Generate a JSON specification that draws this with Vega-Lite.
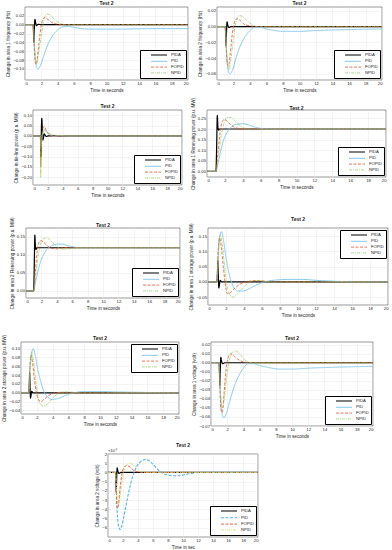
{
"$schema": "https://vega.github.io/schema/vega-lite/v6.json",
"padding": {"left": 0, "top": 0, "right": 0, "bottom": 0},
"background": "white",
"config": {
 "font": "Liberation Sans",
 "view": {"stroke": "#333333", "strokeWidth": 0.5},
 "axis": {"labelFontSize": 4.2, "titleFontSize": 4.6, "titleFontWeight": "normal", "labelColor": "#222222", "titleColor": "#222222", "grid": true, "gridColor": "#e3e3e3", "gridWidth": 0.4, "domain": false, "ticks": false, "labelPadding": 1.5, "titlePadding": 2},
 "title": {"fontSize": 5, "fontWeight": "bold", "offset": 1, "color": "#222222"},
 "legend": {"title": null, "labelFontSize": 4.2, "symbolType": "M-4,0H4", "symbolSize": 16, "strokeColor": "#000000", "fillColor": "#ffffff", "padding": 2, "rowPadding": 0.8, "labelOffset": 9, "symbolOffset": 14, "offset": 2, "cornerRadius": 0, "labelColor": "#222222"},
 "line": {"clip": true, "interpolate": "monotone"}
},
"datasets": {
 "A": [
  {"s":"PIDA","t":0,"v":0},{"s":"PIDA","t":1,"v":0},{"s":"PIDA","t":1.05,"v":-0.02},{"s":"PIDA","t":1.1,"v":-0.04},{"s":"PIDA","t":1.15,"v":-0.01},{"s":"PIDA","t":1.22,"v":0.012},{"s":"PIDA","t":1.3,"v":0.005},{"s":"PIDA","t":1.4,"v":-0.002},{"s":"PIDA","t":1.6,"v":0.001},{"s":"PIDA","t":2,"v":0},{"s":"PIDA","t":20,"v":0},
  {"s":"PID","t":0,"v":0},{"s":"PID","t":1,"v":0},{"s":"PID","t":1.2,"v":-0.06},{"s":"PID","t":1.4,"v":-0.095},{"s":"PID","t":1.6,"v":-0.1},{"s":"PID","t":1.9,"v":-0.092},{"s":"PID","t":2.3,"v":-0.07},{"s":"PID","t":2.8,"v":-0.045},{"s":"PID","t":3.3,"v":-0.027},{"s":"PID","t":4,"v":-0.012},{"s":"PID","t":4.6,"v":-0.005},{"s":"PID","t":5.2,"v":-0.004},{"s":"PID","t":6,"v":-0.006},{"s":"PID","t":7,"v":-0.009},{"s":"PID","t":8,"v":-0.01},{"s":"PID","t":10,"v":-0.01},{"s":"PID","t":12,"v":-0.01},{"s":"PID","t":15,"v":-0.009},{"s":"PID","t":20,"v":-0.009},
  {"s":"FOPID","t":0,"v":0},{"s":"FOPID","t":1,"v":0},{"s":"FOPID","t":1.1,"v":-0.04},{"s":"FOPID","t":1.25,"v":-0.085},{"s":"FOPID","t":1.4,"v":-0.09},{"s":"FOPID","t":1.6,"v":-0.06},{"s":"FOPID","t":1.85,"v":-0.02},{"s":"FOPID","t":2.1,"v":0.008},{"s":"FOPID","t":2.4,"v":0.016},{"s":"FOPID","t":2.8,"v":0.012},{"s":"FOPID","t":3.3,"v":0.005},{"s":"FOPID","t":4,"v":0.001},{"s":"FOPID","t":5,"v":0},{"s":"FOPID","t":20,"v":0},
  {"s":"NPID","t":0,"v":0},{"s":"NPID","t":1,"v":0},{"s":"NPID","t":1.1,"v":-0.03},{"s":"NPID","t":1.3,"v":-0.08},{"s":"NPID","t":1.45,"v":-0.085},{"s":"NPID","t":1.7,"v":-0.06},{"s":"NPID","t":2,"v":-0.025},{"s":"NPID","t":2.3,"v":0.01},{"s":"NPID","t":2.7,"v":0.024},{"s":"NPID","t":3.1,"v":0.022},{"s":"NPID","t":3.6,"v":0.012},{"s":"NPID","t":4.2,"v":0.004},{"s":"NPID","t":5,"v":0},{"s":"NPID","t":20,"v":0}
 ],
 "B": [
  {"s":"PIDA","t":0,"v":0},{"s":"PIDA","t":1,"v":0},{"s":"PIDA","t":1.05,"v":-0.01},{"s":"PIDA","t":1.1,"v":-0.024},{"s":"PIDA","t":1.16,"v":-0.005},{"s":"PIDA","t":1.22,"v":0.006},{"s":"PIDA","t":1.3,"v":0.002},{"s":"PIDA","t":1.45,"v":-0.001},{"s":"PIDA","t":1.7,"v":0},{"s":"PIDA","t":20,"v":0},
  {"s":"PID","t":0,"v":0},{"s":"PID","t":1,"v":0},{"s":"PID","t":1.2,"v":-0.04},{"s":"PID","t":1.4,"v":-0.058},{"s":"PID","t":1.6,"v":-0.06},{"s":"PID","t":1.9,"v":-0.055},{"s":"PID","t":2.3,"v":-0.04},{"s":"PID","t":2.8,"v":-0.025},{"s":"PID","t":3.4,"v":-0.013},{"s":"PID","t":4,"v":-0.005},{"s":"PID","t":4.6,"v":-0.001},{"s":"PID","t":5.2,"v":-0.001},{"s":"PID","t":6,"v":-0.003},{"s":"PID","t":7,"v":-0.005},{"s":"PID","t":8,"v":-0.006},{"s":"PID","t":10,"v":-0.006},{"s":"PID","t":12,"v":-0.005},{"s":"PID","t":15,"v":-0.004},{"s":"PID","t":20,"v":-0.003},
  {"s":"FOPID","t":0,"v":0},{"s":"FOPID","t":1,"v":0},{"s":"FOPID","t":1.1,"v":-0.025},{"s":"FOPID","t":1.25,"v":-0.048},{"s":"FOPID","t":1.4,"v":-0.05},{"s":"FOPID","t":1.6,"v":-0.035},{"s":"FOPID","t":1.85,"v":-0.01},{"s":"FOPID","t":2.1,"v":0.005},{"s":"FOPID","t":2.4,"v":0.01},{"s":"FOPID","t":2.8,"v":0.008},{"s":"FOPID","t":3.3,"v":0.003},{"s":"FOPID","t":4,"v":0.001},{"s":"FOPID","t":5,"v":0},{"s":"FOPID","t":20,"v":0},
  {"s":"NPID","t":0,"v":0},{"s":"NPID","t":1,"v":0},{"s":"NPID","t":1.1,"v":-0.02},{"s":"NPID","t":1.3,"v":-0.05},{"s":"NPID","t":1.45,"v":-0.055},{"s":"NPID","t":1.7,"v":-0.04},{"s":"NPID","t":2,"v":-0.015},{"s":"NPID","t":2.3,"v":0.006},{"s":"NPID","t":2.7,"v":0.014},{"s":"NPID","t":3.1,"v":0.013},{"s":"NPID","t":3.6,"v":0.008},{"s":"NPID","t":4.2,"v":0.003},{"s":"NPID","t":5,"v":0},{"s":"NPID","t":20,"v":0}
 ],
 "C": [
  {"s":"PIDA","t":0,"v":0},{"s":"PIDA","t":1,"v":0},{"s":"PIDA","t":1.03,"v":-0.05},{"s":"PIDA","t":1.07,"v":-0.1},{"s":"PIDA","t":1.12,"v":0.02},{"s":"PIDA","t":1.18,"v":0.085},{"s":"PIDA","t":1.25,"v":0.03},{"s":"PIDA","t":1.32,"v":-0.02},{"s":"PIDA","t":1.4,"v":-0.01},{"s":"PIDA","t":1.5,"v":0.01},{"s":"PIDA","t":1.6,"v":0.005},{"s":"PIDA","t":1.8,"v":-0.003},{"s":"PIDA","t":2,"v":0},{"s":"PIDA","t":20,"v":0},
  {"s":"PID","t":0,"v":0},{"s":"PID","t":1,"v":0},{"s":"PID","t":1.05,"v":-0.05},{"s":"PID","t":1.15,"v":-0.03},{"s":"PID","t":1.35,"v":0.02},{"s":"PID","t":1.6,"v":0.03},{"s":"PID","t":1.9,"v":0.02},{"s":"PID","t":2.3,"v":0.005},{"s":"PID","t":2.8,"v":-0.003},{"s":"PID","t":3.5,"v":0.002},{"s":"PID","t":4.5,"v":0},{"s":"PID","t":20,"v":0},
  {"s":"FOPID","t":0,"v":0},{"s":"FOPID","t":1,"v":0},{"s":"FOPID","t":1.04,"v":-0.15},{"s":"FOPID","t":1.1,"v":-0.08},{"s":"FOPID","t":1.25,"v":0.02},{"s":"FOPID","t":1.5,"v":0.045},{"s":"FOPID","t":1.8,"v":0.025},{"s":"FOPID","t":2.2,"v":0.005},{"s":"FOPID","t":2.7,"v":-0.003},{"s":"FOPID","t":3.3,"v":0.001},{"s":"FOPID","t":4,"v":0},{"s":"FOPID","t":20,"v":0},
  {"s":"NPID","t":0,"v":0},{"s":"NPID","t":1,"v":0},{"s":"NPID","t":1.03,"v":-0.2},{"s":"NPID","t":1.08,"v":-0.12},{"s":"NPID","t":1.2,"v":0},{"s":"NPID","t":1.4,"v":0.025},{"s":"NPID","t":1.7,"v":0.02},{"s":"NPID","t":2.1,"v":0.012},{"s":"NPID","t":2.6,"v":0.006},{"s":"NPID","t":3.2,"v":0.002},{"s":"NPID","t":4,"v":0.002},{"s":"NPID","t":5,"v":0},{"s":"NPID","t":20,"v":0}
 ],
 "D": [
  {"s":"PIDA","t":0,"v":0},{"s":"PIDA","t":1,"v":0},{"s":"PIDA","t":1.08,"v":0.12},{"s":"PIDA","t":1.15,"v":0.265},{"s":"PIDA","t":1.22,"v":0.21},{"s":"PIDA","t":1.3,"v":0.195},{"s":"PIDA","t":1.4,"v":0.2},{"s":"PIDA","t":20,"v":0.2},
  {"s":"PID","t":0,"v":0},{"s":"PID","t":1,"v":0},{"s":"PID","t":1.2,"v":0.03},{"s":"PID","t":1.5,"v":0.09},{"s":"PID","t":1.8,"v":0.14},{"s":"PID","t":2.2,"v":0.18},{"s":"PID","t":2.7,"v":0.21},{"s":"PID","t":3.3,"v":0.222},{"s":"PID","t":4,"v":0.225},{"s":"PID","t":4.6,"v":0.22},{"s":"PID","t":5.3,"v":0.21},{"s":"PID","t":6,"v":0.203},{"s":"PID","t":7,"v":0.2},{"s":"PID","t":20,"v":0.2},
  {"s":"FOPID","t":0,"v":0},{"s":"FOPID","t":1,"v":0},{"s":"FOPID","t":1.2,"v":0.08},{"s":"FOPID","t":1.45,"v":0.18},{"s":"FOPID","t":1.7,"v":0.235},{"s":"FOPID","t":1.95,"v":0.245},{"s":"FOPID","t":2.3,"v":0.235},{"s":"FOPID","t":2.8,"v":0.215},{"s":"FOPID","t":3.3,"v":0.205},{"s":"FOPID","t":4,"v":0.2},{"s":"FOPID","t":20,"v":0.2},
  {"s":"NPID","t":0,"v":0},{"s":"NPID","t":1,"v":0},{"s":"NPID","t":1.3,"v":0.08},{"s":"NPID","t":1.6,"v":0.17},{"s":"NPID","t":1.9,"v":0.23},{"s":"NPID","t":2.3,"v":0.255},{"s":"NPID","t":2.7,"v":0.255},{"s":"NPID","t":3.2,"v":0.235},{"s":"NPID","t":3.8,"v":0.213},{"s":"NPID","t":4.4,"v":0.2},{"s":"NPID","t":5,"v":0.196},{"s":"NPID","t":5.8,"v":0.197},{"s":"NPID","t":7,"v":0.2},{"s":"NPID","t":20,"v":0.2}
 ],
 "E": [
  {"s":"PIDA","t":0,"v":0},{"s":"PIDA","t":1,"v":0},{"s":"PIDA","t":1.08,"v":0.08},{"s":"PIDA","t":1.15,"v":0.155},{"s":"PIDA","t":1.22,"v":0.125},{"s":"PIDA","t":1.3,"v":0.115},{"s":"PIDA","t":1.4,"v":0.12},{"s":"PIDA","t":20,"v":0.12},
  {"s":"PID","t":0,"v":0},{"s":"PID","t":1,"v":0},{"s":"PID","t":1.2,"v":0.02},{"s":"PID","t":1.5,"v":0.05},{"s":"PID","t":1.8,"v":0.075},{"s":"PID","t":2.2,"v":0.097},{"s":"PID","t":2.7,"v":0.115},{"s":"PID","t":3.3,"v":0.125},{"s":"PID","t":4,"v":0.13},{"s":"PID","t":4.7,"v":0.13},{"s":"PID","t":5.4,"v":0.126},{"s":"PID","t":6.2,"v":0.122},{"s":"PID","t":7,"v":0.12},{"s":"PID","t":20,"v":0.12},
  {"s":"FOPID","t":0,"v":0},{"s":"FOPID","t":1,"v":0},{"s":"FOPID","t":1.2,"v":0.05},{"s":"FOPID","t":1.45,"v":0.11},{"s":"FOPID","t":1.7,"v":0.135},{"s":"FOPID","t":1.95,"v":0.14},{"s":"FOPID","t":2.3,"v":0.135},{"s":"FOPID","t":2.8,"v":0.125},{"s":"FOPID","t":3.4,"v":0.118},{"s":"FOPID","t":4,"v":0.117},{"s":"FOPID","t":5,"v":0.12},{"s":"FOPID","t":20,"v":0.12},
  {"s":"NPID","t":0,"v":0},{"s":"NPID","t":1,"v":0},{"s":"NPID","t":1.3,"v":0.05},{"s":"NPID","t":1.6,"v":0.1},{"s":"NPID","t":1.9,"v":0.13},{"s":"NPID","t":2.3,"v":0.145},{"s":"NPID","t":2.7,"v":0.148},{"s":"NPID","t":3.2,"v":0.14},{"s":"NPID","t":3.8,"v":0.127},{"s":"NPID","t":4.4,"v":0.118},{"s":"NPID","t":5,"v":0.116},{"s":"NPID","t":6,"v":0.118},{"s":"NPID","t":7,"v":0.12},{"s":"NPID","t":20,"v":0.12}
 ],
 "F": [
  {"s":"PIDA","t":0,"v":0},{"s":"PIDA","t":1,"v":0},{"s":"PIDA","t":1.06,"v":0.04},{"s":"PIDA","t":1.1,"v":0.07},{"s":"PIDA","t":1.15,"v":0.02},{"s":"PIDA","t":1.2,"v":-0.02},{"s":"PIDA","t":1.27,"v":-0.01},{"s":"PIDA","t":1.35,"v":0.005},{"s":"PIDA","t":1.5,"v":0},{"s":"PIDA","t":20,"v":0},
  {"s":"PID","t":0,"v":0},{"s":"PID","t":1,"v":0},{"s":"PID","t":1.15,"v":0.09},{"s":"PID","t":1.3,"v":0.15},{"s":"PID","t":1.5,"v":0.165},{"s":"PID","t":1.7,"v":0.14},{"s":"PID","t":2,"v":0.08},{"s":"PID","t":2.4,"v":0.02},{"s":"PID","t":2.8,"v":-0.015},{"s":"PID","t":3.3,"v":-0.03},{"s":"PID","t":3.9,"v":-0.03},{"s":"PID","t":4.6,"v":-0.022},{"s":"PID","t":5.4,"v":-0.01},{"s":"PID","t":6.3,"v":0},{"s":"PID","t":7.5,"v":0.006},{"s":"PID","t":9,"v":0.008},{"s":"PID","t":10.5,"v":0.008},{"s":"PID","t":12,"v":0.005},{"s":"PID","t":14,"v":0.002},{"s":"PID","t":17,"v":0},{"s":"PID","t":20,"v":0},
  {"s":"FOPID","t":0,"v":0},{"s":"FOPID","t":1,"v":0},{"s":"FOPID","t":1.12,"v":0.1},{"s":"FOPID","t":1.3,"v":0.145},{"s":"FOPID","t":1.45,"v":0.12},{"s":"FOPID","t":1.7,"v":0.05},{"s":"FOPID","t":1.95,"v":-0.015},{"s":"FOPID","t":2.2,"v":-0.04},{"s":"FOPID","t":2.5,"v":-0.035},{"s":"FOPID","t":3,"v":-0.02},{"s":"FOPID","t":3.6,"v":-0.007},{"s":"FOPID","t":4.3,"v":0},{"s":"FOPID","t":5,"v":0.004},{"s":"FOPID","t":6,"v":0.003},{"s":"FOPID","t":7,"v":0},{"s":"FOPID","t":20,"v":0},
  {"s":"NPID","t":0,"v":0},{"s":"NPID","t":1,"v":0},{"s":"NPID","t":1.15,"v":0.1},{"s":"NPID","t":1.35,"v":0.155},{"s":"NPID","t":1.55,"v":0.13},{"s":"NPID","t":1.85,"v":0.05},{"s":"NPID","t":2.15,"v":-0.02},{"s":"NPID","t":2.5,"v":-0.045},{"s":"NPID","t":2.8,"v":-0.05},{"s":"NPID","t":3.2,"v":-0.042},{"s":"NPID","t":3.7,"v":-0.025},{"s":"NPID","t":4.3,"v":-0.008},{"s":"NPID","t":5,"v":0.003},{"s":"NPID","t":5.8,"v":0.004},{"s":"NPID","t":7,"v":0},{"s":"NPID","t":20,"v":0}
 ],
 "G": [
  {"s":"PIDA","t":0,"v":0},{"s":"PIDA","t":1,"v":0},{"s":"PIDA","t":1.06,"v":0.025},{"s":"PIDA","t":1.1,"v":0.045},{"s":"PIDA","t":1.15,"v":0.01},{"s":"PIDA","t":1.2,"v":-0.012},{"s":"PIDA","t":1.27,"v":-0.006},{"s":"PIDA","t":1.35,"v":0.003},{"s":"PIDA","t":1.5,"v":0},{"s":"PIDA","t":20,"v":0},
  {"s":"PID","t":0,"v":0},{"s":"PID","t":1,"v":0},{"s":"PID","t":1.15,"v":0.05},{"s":"PID","t":1.35,"v":0.09},{"s":"PID","t":1.55,"v":0.1},{"s":"PID","t":1.8,"v":0.085},{"s":"PID","t":2.1,"v":0.055},{"s":"PID","t":2.5,"v":0.025},{"s":"PID","t":2.9,"v":0.003},{"s":"PID","t":3.4,"v":-0.01},{"s":"PID","t":4,"v":-0.015},{"s":"PID","t":4.7,"v":-0.013},{"s":"PID","t":5.5,"v":-0.007},{"s":"PID","t":6.5,"v":-0.001},{"s":"PID","t":8,"v":0.003},{"s":"PID","t":10,"v":0.003},{"s":"PID","t":12,"v":0.002},{"s":"PID","t":15,"v":0.001},{"s":"PID","t":20,"v":0},
  {"s":"FOPID","t":0,"v":0},{"s":"FOPID","t":1,"v":0},{"s":"FOPID","t":1.12,"v":0.06},{"s":"FOPID","t":1.3,"v":0.085},{"s":"FOPID","t":1.45,"v":0.07},{"s":"FOPID","t":1.7,"v":0.03},{"s":"FOPID","t":1.95,"v":0},{"s":"FOPID","t":2.2,"v":-0.015},{"s":"FOPID","t":2.5,"v":-0.02},{"s":"FOPID","t":2.9,"v":-0.015},{"s":"FOPID","t":3.5,"v":-0.006},{"s":"FOPID","t":4.2,"v":-0.001},{"s":"FOPID","t":5,"v":0.001},{"s":"FOPID","t":6,"v":0},{"s":"FOPID","t":20,"v":0},
  {"s":"NPID","t":0,"v":0},{"s":"NPID","t":1,"v":0},{"s":"NPID","t":1.15,"v":0.07},{"s":"NPID","t":1.35,"v":0.092},{"s":"NPID","t":1.55,"v":0.075},{"s":"NPID","t":1.85,"v":0.03},{"s":"NPID","t":2.15,"v":-0.01},{"s":"NPID","t":2.5,"v":-0.027},{"s":"NPID","t":2.9,"v":-0.03},{"s":"NPID","t":3.4,"v":-0.025},{"s":"NPID","t":4,"v":-0.012},{"s":"NPID","t":4.6,"v":-0.003},{"s":"NPID","t":5.3,"v":0.002},{"s":"NPID","t":6.2,"v":0.002},{"s":"NPID","t":7,"v":0},{"s":"NPID","t":20,"v":0}
 ],
 "H": [
  {"s":"PIDA","t":0,"v":0},{"s":"PIDA","t":1,"v":0},{"s":"PIDA","t":1.05,"v":-0.012},{"s":"PIDA","t":1.1,"v":-0.025},{"s":"PIDA","t":1.16,"v":-0.005},{"s":"PIDA","t":1.22,"v":0.006},{"s":"PIDA","t":1.3,"v":0.002},{"s":"PIDA","t":1.45,"v":-0.001},{"s":"PIDA","t":1.7,"v":0},{"s":"PIDA","t":20,"v":0},
  {"s":"PID","t":0,"v":0},{"s":"PID","t":1,"v":0},{"s":"PID","t":1.2,"v":-0.04},{"s":"PID","t":1.4,"v":-0.058},{"s":"PID","t":1.6,"v":-0.061},{"s":"PID","t":1.9,"v":-0.056},{"s":"PID","t":2.3,"v":-0.043},{"s":"PID","t":2.8,"v":-0.028},{"s":"PID","t":3.4,"v":-0.015},{"s":"PID","t":4,"v":-0.006},{"s":"PID","t":4.6,"v":-0.001},{"s":"PID","t":5.2,"v":-0.001},{"s":"PID","t":6,"v":-0.003},{"s":"PID","t":7,"v":-0.005},{"s":"PID","t":8.5,"v":-0.007},{"s":"PID","t":10,"v":-0.007},{"s":"PID","t":12,"v":-0.006},{"s":"PID","t":15,"v":-0.005},{"s":"PID","t":20,"v":-0.004},
  {"s":"FOPID","t":0,"v":0},{"s":"FOPID","t":1,"v":0},{"s":"FOPID","t":1.1,"v":-0.03},{"s":"FOPID","t":1.25,"v":-0.053},{"s":"FOPID","t":1.4,"v":-0.055},{"s":"FOPID","t":1.6,"v":-0.035},{"s":"FOPID","t":1.85,"v":-0.008},{"s":"FOPID","t":2.1,"v":0.005},{"s":"FOPID","t":2.4,"v":0.01},{"s":"FOPID","t":2.8,"v":0.008},{"s":"FOPID","t":3.3,"v":0.004},{"s":"FOPID","t":4,"v":0.001},{"s":"FOPID","t":5,"v":0},{"s":"FOPID","t":20,"v":0},
  {"s":"NPID","t":0,"v":0},{"s":"NPID","t":1,"v":0},{"s":"NPID","t":1.1,"v":-0.02},{"s":"NPID","t":1.3,"v":-0.047},{"s":"NPID","t":1.45,"v":-0.05},{"s":"NPID","t":1.7,"v":-0.035},{"s":"NPID","t":2,"v":-0.012},{"s":"NPID","t":2.3,"v":0.004},{"s":"NPID","t":2.7,"v":0.012},{"s":"NPID","t":3.1,"v":0.013},{"s":"NPID","t":3.6,"v":0.009},{"s":"NPID","t":4.2,"v":0.003},{"s":"NPID","t":5,"v":0},{"s":"NPID","t":20,"v":0}
 ],
 "I": [
  {"s":"PIDA","t":0,"v":0},{"s":"PIDA","t":1,"v":0},{"s":"PIDA","t":1.05,"v":-1},{"s":"PIDA","t":1.1,"v":-2.1},{"s":"PIDA","t":1.16,"v":-0.5},{"s":"PIDA","t":1.22,"v":0.5},{"s":"PIDA","t":1.3,"v":0.2},{"s":"PIDA","t":1.45,"v":-0.1},{"s":"PIDA","t":1.7,"v":0},{"s":"PIDA","t":20,"v":0},
  {"s":"PID","t":0,"v":0},{"s":"PID","t":1,"v":0},{"s":"PID","t":1.2,"v":-4},{"s":"PID","t":1.4,"v":-5.8},{"s":"PID","t":1.6,"v":-6.2},{"s":"PID","t":1.9,"v":-5.6},{"s":"PID","t":2.3,"v":-4},{"s":"PID","t":2.8,"v":-2},{"s":"PID","t":3.3,"v":-0.4},{"s":"PID","t":3.8,"v":0.6},{"s":"PID","t":4.4,"v":1.2},{"s":"PID","t":5,"v":1.4},{"s":"PID","t":5.6,"v":1.2},{"s":"PID","t":6.2,"v":0.7},{"s":"PID","t":6.8,"v":0.2},{"s":"PID","t":7.5,"v":-0.15},{"s":"PID","t":8.5,"v":-0.35},{"s":"PID","t":9.5,"v":-0.35},{"s":"PID","t":10.5,"v":-0.2},{"s":"PID","t":11.5,"v":-0.05},{"s":"PID","t":13,"v":0.02},{"s":"PID","t":20,"v":0},
  {"s":"FOPID","t":0,"v":0},{"s":"FOPID","t":1,"v":0},{"s":"FOPID","t":1.1,"v":-2},{"s":"FOPID","t":1.25,"v":-3.9},{"s":"FOPID","t":1.4,"v":-3.5},{"s":"FOPID","t":1.6,"v":-1.8},{"s":"FOPID","t":1.85,"v":-0.2},{"s":"FOPID","t":2.1,"v":0.5},{"s":"FOPID","t":2.5,"v":0.75},{"s":"FOPID","t":2.9,"v":0.6},{"s":"FOPID","t":3.4,"v":0.25},{"s":"FOPID","t":4,"v":0.05},{"s":"FOPID","t":5,"v":0},{"s":"FOPID","t":20,"v":0},
  {"s":"NPID","t":0,"v":0},{"s":"NPID","t":1,"v":0},{"s":"NPID","t":1.1,"v":-1.5},{"s":"NPID","t":1.3,"v":-3.2},{"s":"NPID","t":1.45,"v":-3.4},{"s":"NPID","t":1.7,"v":-2},{"s":"NPID","t":2,"v":-0.3},{"s":"NPID","t":2.4,"v":0.7},{"s":"NPID","t":2.9,"v":1},{"s":"NPID","t":3.4,"v":0.8},{"s":"NPID","t":4,"v":0.3},{"s":"NPID","t":4.6,"v":0.05},{"s":"NPID","t":5.5,"v":0},{"s":"NPID","t":20,"v":0}
 ],
 "Iexp": [{"t": 0, "v": 2, "txt": "×10⁻³"}],
 "none": []
},
"spacing": 0,
"resolve": {"scale": {"color": "independent", "strokeDash": "independent", "strokeWidth": "independent"}, "legend": {"color": "independent", "strokeDash": "independent", "strokeWidth": "independent"}},
"vconcat": [
 {"hconcat": [
  {"data": {"name": "none"}, "width": 25, "height": 90, "mark": "point", "view": {"stroke": null}},
  {"data": {"name": "A"}, "width": 163, "height": 73, "title": "Test 2", "mark": "line",
   "encoding": {
    "x": {"field": "t", "type": "quantitative", "scale": {"domain": [0, 20], "nice": false}, "axis": {"values": [0,2,4,6,8,10,12,14,16,18,20], "title": "Time in seconds"}},
    "y": {"field": "v", "type": "quantitative", "scale": {"domain": [-0.125, 0.04], "nice": false, "zero": false}, "axis": {"values": [-0.1,-0.08,-0.06,-0.04,-0.02,0,0.02], "title": "Change in area 1 frequency (Hz)"}},
    "color": {"field": "s", "type": "nominal", "scale": {"domain": ["PIDA","PID","FOPID","NPID"], "range": ["#000000","#86c8ee","#e8552c","#7cc242"]}, "legend": {"orient": "bottom-right"}},
    "strokeDash": {"field": "s", "type": "nominal", "scale": {"domain": ["PIDA","PID","FOPID","NPID"], "range": [[1,0],[1,0],[3,1.5],[3,1,1,1]]}, "legend": {"orient": "bottom-right"}},
    "strokeWidth": {"field": "s", "type": "nominal", "scale": {"domain": ["PIDA","PID","FOPID","NPID"], "range": [1.2,0.6,0.7,0.7]}, "legend": {"orient": "bottom-right"}}
   }},
  {"data": {"name": "none"}, "width": 29, "height": 1, "mark": "point", "view": {"stroke": null}},
  {"data": {"name": "B"}, "width": 165, "height": 73, "title": "Test 2", "mark": "line",
   "encoding": {
    "x": {"field": "t", "type": "quantitative", "scale": {"domain": [0, 20], "nice": false}, "axis": {"values": [0,2,4,6,8,10,12,14,16,18,20], "title": "Time in seconds"}},
    "y": {"field": "v", "type": "quantitative", "scale": {"domain": [-0.068, 0.025], "nice": false, "zero": false}, "axis": {"values": [-0.06,-0.04,-0.02,0,0.02], "title": "Change in area 2 frequency (Hz)"}},
    "color": {"field": "s", "type": "nominal", "scale": {"domain": ["PIDA","PID","FOPID","NPID"], "range": ["#000000","#86c8ee","#e8552c","#7cc242"]}, "legend": {"orient": "bottom-right"}},
    "strokeDash": {"field": "s", "type": "nominal", "scale": {"domain": ["PIDA","PID","FOPID","NPID"], "range": [[1,0],[1,0],[3,1.5],[3,1,1,1]]}, "legend": {"orient": "bottom-right"}},
    "strokeWidth": {"field": "s", "type": "nominal", "scale": {"domain": ["PIDA","PID","FOPID","NPID"], "range": [1.2,0.6,0.7,0.7]}, "legend": {"orient": "bottom-right"}}
   }}
 ], "spacing": 0, "bounds": "flush", "resolve": {"scale": {"color": "independent", "strokeDash": "independent", "strokeWidth": "independent"}, "legend": {"color": "independent", "strokeDash": "independent", "strokeWidth": "independent"}}},
 {"hconcat": [
  {"data": {"name": "none"}, "width": 33, "height": 106, "mark": "point", "view": {"stroke": null}},
  {"data": {"name": "C"}, "width": 149, "height": 75, "title": "Test 2", "mark": "line",
   "encoding": {
    "x": {"field": "t", "type": "quantitative", "scale": {"domain": [0, 20], "nice": false}, "axis": {"values": [0,2,4,6,8,10,12,14,16,18,20], "title": "Time in seconds"}},
    "y": {"field": "v", "type": "quantitative", "scale": {"domain": [-0.237, 0.125], "nice": false, "zero": false}, "axis": {"values": [-0.2,-0.15,-0.1,-0.05,0,0.05,0.1], "title": "Change in tie-line power (p.u. MW)"}},
    "color": {"field": "s", "type": "nominal", "scale": {"domain": ["PIDA","PID","FOPID","NPID"], "range": ["#000000","#86c8ee","#e8552c","#7cc242"]}, "legend": {"orient": "bottom-right"}},
    "strokeDash": {"field": "s", "type": "nominal", "scale": {"domain": ["PIDA","PID","FOPID","NPID"], "range": [[1,0],[1,0],[3,1.5],[3,1,1,1]]}, "legend": {"orient": "bottom-right"}},
    "strokeWidth": {"field": "s", "type": "nominal", "scale": {"domain": ["PIDA","PID","FOPID","NPID"], "range": [1.2,0.6,0.7,0.7]}, "legend": {"orient": "bottom-right"}}
   }},
  {"data": {"name": "none"}, "width": 25, "height": 1, "mark": "point", "view": {"stroke": null}},
  {"data": {"name": "D"}, "width": 179, "height": 67, "title": {"text": "Test 2", "dy": 15}, "mark": "line",
   "encoding": {
    "x": {"field": "t", "type": "quantitative", "scale": {"domain": [0, 20], "nice": false}, "axis": {"values": [0,2,4,6,8,10,12,14,16,18,20], "title": "Time in seconds"}},
    "y": {"field": "v", "type": "quantitative", "scale": {"domain": [-0.027, 0.29], "nice": false, "zero": false}, "axis": {"values": [0,0.05,0.1,0.15,0.2,0.25], "title": "Change in area 1 Renewing power (p.u. MW)"}},
    "color": {"field": "s", "type": "nominal", "scale": {"domain": ["PIDA","PID","FOPID","NPID"], "range": ["#000000","#86c8ee","#e8552c","#7cc242"]}, "legend": {"orient": "bottom-right"}},
    "strokeDash": {"field": "s", "type": "nominal", "scale": {"domain": ["PIDA","PID","FOPID","NPID"], "range": [[1,0],[1,0],[3,1.5],[3,1,1,1]]}, "legend": {"orient": "bottom-right"}},
    "strokeWidth": {"field": "s", "type": "nominal", "scale": {"domain": ["PIDA","PID","FOPID","NPID"], "range": [1.2,0.6,0.7,0.7]}, "legend": {"orient": "bottom-right"}}
   }}
 ], "spacing": 0, "bounds": "flush", "resolve": {"scale": {"color": "independent", "strokeDash": "independent", "strokeWidth": "independent"}, "legend": {"color": "independent", "strokeDash": "independent", "strokeWidth": "independent"}}},
 {"hconcat": [
  {"data": {"name": "none"}, "width": 26, "height": 106, "mark": "point", "view": {"stroke": null}},
  {"data": {"name": "E"}, "width": 154, "height": 70, "title": {"text": "Test 2", "dy": 12}, "mark": "line",
   "encoding": {
    "x": {"field": "t", "type": "quantitative", "scale": {"domain": [0, 20], "nice": false}, "axis": {"values": [0,2,4,6,8,10,12,14,16,18,20], "title": "Time in seconds"}},
    "y": {"field": "v", "type": "quantitative", "scale": {"domain": [-0.02, 0.175], "nice": false, "zero": false}, "axis": {"values": [0,0.05,0.1,0.15], "title": "Change in area 2 Renewing power (p.u. MW)"}},
    "color": {"field": "s", "type": "nominal", "scale": {"domain": ["PIDA","PID","FOPID","NPID"], "range": ["#000000","#86c8ee","#e8552c","#7cc242"]}, "legend": {"orient": "bottom-right"}},
    "strokeDash": {"field": "s", "type": "nominal", "scale": {"domain": ["PIDA","PID","FOPID","NPID"], "range": [[1,0],[1,0],[3,1.5],[3,1,1,1]]}, "legend": {"orient": "bottom-right"}},
    "strokeWidth": {"field": "s", "type": "nominal", "scale": {"domain": ["PIDA","PID","FOPID","NPID"], "range": [1.2,0.6,0.7,0.7]}, "legend": {"orient": "bottom-right"}}
   }},
  {"data": {"name": "none"}, "width": 28, "height": 1, "mark": "point", "view": {"stroke": null}},
  {"data": {"name": "F"}, "width": 180, "height": 77, "title": "Test 2", "mark": "line",
   "encoding": {
    "x": {"field": "t", "type": "quantitative", "scale": {"domain": [0, 20], "nice": false}, "axis": {"values": [0,2,4,6,8,10,12,14,16,18,20], "title": "Time in seconds"}},
    "y": {"field": "v", "type": "quantitative", "scale": {"domain": [-0.076, 0.177], "nice": false, "zero": false}, "axis": {"values": [-0.05,0,0.05,0.1,0.15], "title": "Change in area 1 storage power (p.u. MW)"}},
    "color": {"field": "s", "type": "nominal", "scale": {"domain": ["PIDA","PID","FOPID","NPID"], "range": ["#000000","#86c8ee","#e8552c","#7cc242"]}, "legend": {"orient": "top-right"}},
    "strokeDash": {"field": "s", "type": "nominal", "scale": {"domain": ["PIDA","PID","FOPID","NPID"], "range": [[1,0],[1,0],[3,1.5],[3,1,1,1]]}, "legend": {"orient": "top-right"}},
    "strokeWidth": {"field": "s", "type": "nominal", "scale": {"domain": ["PIDA","PID","FOPID","NPID"], "range": [1.2,0.6,0.7,0.7]}, "legend": {"orient": "top-right"}}
   }}
 ], "spacing": 0, "bounds": "flush", "resolve": {"scale": {"color": "independent", "strokeDash": "independent", "strokeWidth": "independent"}, "legend": {"color": "independent", "strokeDash": "independent", "strokeWidth": "independent"}}},
 {"hconcat": [
  {"data": {"name": "none"}, "width": 21, "height": 100, "mark": "point", "view": {"stroke": null}},
  {"data": {"name": "G"}, "width": 158, "height": 72, "title": {"text": "Test 2", "dy": 8}, "mark": "line",
   "encoding": {
    "x": {"field": "t", "type": "quantitative", "scale": {"domain": [0, 20], "nice": false}, "axis": {"values": [0,2,4,6,8,10,12,14,16,18,20], "title": "Time in seconds"}},
    "y": {"field": "v", "type": "quantitative", "scale": {"domain": [-0.048, 0.115], "nice": false, "zero": false}, "axis": {"values": [-0.04,-0.02,0,0.02,0.04,0.06,0.08,0.1], "title": "Change in area 2 storage power (p.u. MW)"}},
    "color": {"field": "s", "type": "nominal", "scale": {"domain": ["PIDA","PID","FOPID","NPID"], "range": ["#000000","#86c8ee","#e8552c","#7cc242"]}, "legend": {"orient": "top-right"}},
    "strokeDash": {"field": "s", "type": "nominal", "scale": {"domain": ["PIDA","PID","FOPID","NPID"], "range": [[1,0],[1,0],[3,1.5],[3,1,1,1]]}, "legend": {"orient": "top-right"}},
    "strokeWidth": {"field": "s", "type": "nominal", "scale": {"domain": ["PIDA","PID","FOPID","NPID"], "range": [1.2,0.6,0.7,0.7]}, "legend": {"orient": "top-right"}}
   }},
  {"data": {"name": "none"}, "width": 32, "height": 1, "mark": "point", "view": {"stroke": null}},
  {"data": {"name": "H"}, "width": 162, "height": 84, "title": "Test 2", "mark": "line",
   "encoding": {
    "x": {"field": "t", "type": "quantitative", "scale": {"domain": [0, 20], "nice": false}, "axis": {"values": [0,2,4,6,8,10,12,14,16,18,20], "title": "Time in seconds"}},
    "y": {"field": "v", "type": "quantitative", "scale": {"domain": [-0.07, 0.023], "nice": false, "zero": false}, "axis": {"values": [-0.07,-0.06,-0.05,-0.04,-0.03,-0.02,-0.01,0,0.01,0.02], "title": "Change in area 1 voltage (volt)"}},
    "color": {"field": "s", "type": "nominal", "scale": {"domain": ["PIDA","PID","FOPID","NPID"], "range": ["#000000","#86c8ee","#e8552c","#7cc242"]}, "legend": {"orient": "bottom-right"}},
    "strokeDash": {"field": "s", "type": "nominal", "scale": {"domain": ["PIDA","PID","FOPID","NPID"], "range": [[1,0],[1,0],[3,1.5],[3,1,1,1]]}, "legend": {"orient": "bottom-right"}},
    "strokeWidth": {"field": "s", "type": "nominal", "scale": {"domain": ["PIDA","PID","FOPID","NPID"], "range": [1.2,0.6,0.7,0.7]}, "legend": {"orient": "bottom-right"}}
   }}
 ], "spacing": 0, "bounds": "flush", "resolve": {"scale": {"color": "independent", "strokeDash": "independent", "strokeWidth": "independent"}, "legend": {"color": "independent", "strokeDash": "independent", "strokeWidth": "independent"}}},
 {"hconcat": [
  {"data": {"name": "none"}, "width": 108, "height": 1, "mark": "point", "view": {"stroke": null}},
  {"width": 150, "height": 83, "title": "Test 2",
   "layer": [
    {"data": {"name": "I"}, "mark": "line",
     "encoding": {
      "x": {"field": "t", "type": "quantitative", "scale": {"domain": [0, 20], "nice": false}, "axis": {"values": [0,2,4,6,8,10,12,14,16,18,20], "title": "Time in sec"}},
      "y": {"field": "v", "type": "quantitative", "scale": {"domain": [-7, 2], "nice": false, "zero": false}, "axis": {"values": [-6,-5,-4,-3,-2,-1,0,1,2], "title": "Change in area 2 voltage (volt)"}},
      "color": {"field": "s", "type": "nominal", "scale": {"domain": ["PIDA","PID","FOPID","NPID"], "range": ["#000000","#4fb3e8","#e8552c","#c9dd6a"]}, "legend": {"orient": "bottom-right"}},
      "strokeDash": {"field": "s", "type": "nominal", "scale": {"domain": ["PIDA","PID","FOPID","NPID"], "range": [[1,0],[3,1.5],[3,1.5],[3,1,1,1]]}, "legend": {"orient": "bottom-right"}},
      "strokeWidth": {"field": "s", "type": "nominal", "scale": {"domain": ["PIDA","PID","FOPID","NPID"], "range": [1.2,0.8,0.7,0.7]}, "legend": {"orient": "bottom-right"}}
     }},
    {"data": {"name": "Iexp"}, "mark": {"type": "text", "align": "left", "baseline": "bottom", "fontSize": 4, "dy": -1, "color": "#222222"},
     "encoding": {
      "x": {"field": "t", "type": "quantitative", "axis": {"values": [0,2,4,6,8,10,12,14,16,18,20], "title": "Time in sec"}},
      "y": {"field": "v", "type": "quantitative", "axis": {"values": [-6,-5,-4,-3,-2,-1,0,1,2], "title": "Change in area 2 voltage (volt)"}},
      "text": {"field": "txt"}}}
   ]}
 ], "spacing": 0, "bounds": "flush", "resolve": {"scale": {"color": "independent", "strokeDash": "independent", "strokeWidth": "independent"}, "legend": {"color": "independent", "strokeDash": "independent", "strokeWidth": "independent"}}}
]
}
